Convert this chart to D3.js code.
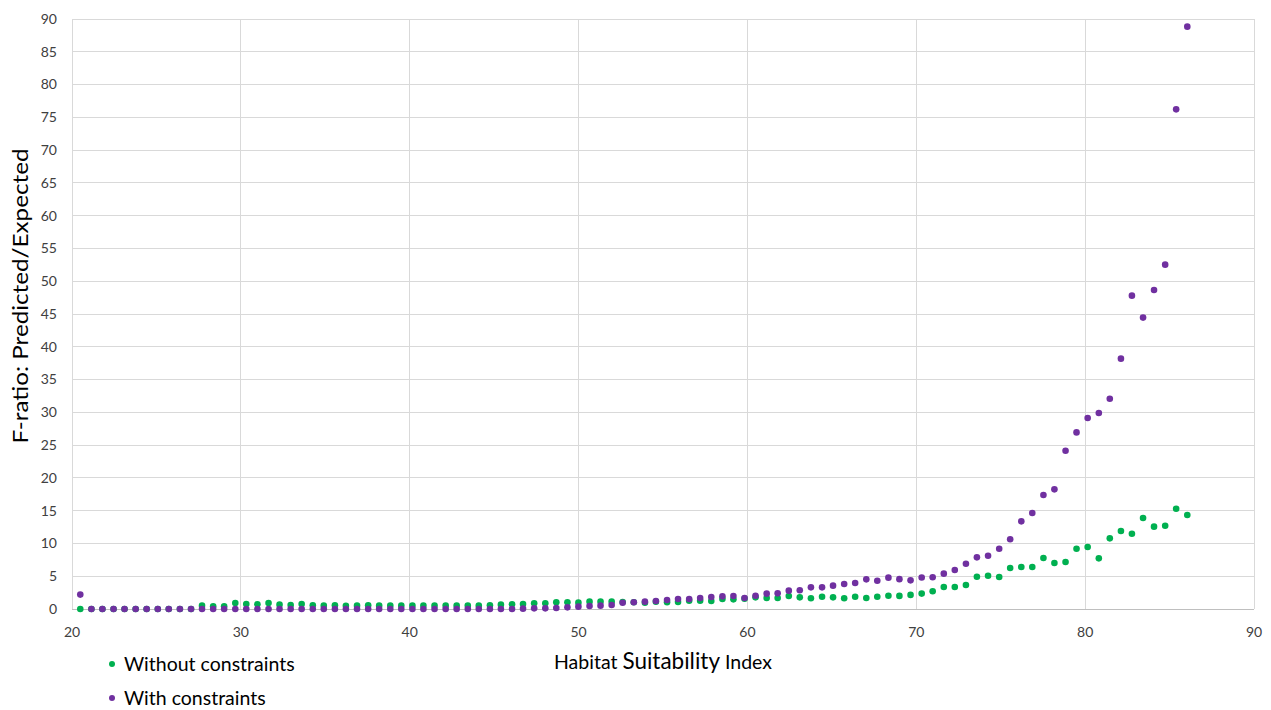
<!DOCTYPE html>
<html><head><meta charset="utf-8">
<script src="https://cdn.jsdelivr.net/npm/d3@7"></script>
<style>
html,body{margin:0;padding:0;background:#fff;}
svg{display:block;font-family:Lato,"Open Sans",sans-serif;}
</style></head>
<body><svg id="c" width="1271" height="710"></svg>
<script>
const hsi = [20.49,21.15,21.80,22.46,23.11,23.77,24.42,25.08,25.73,26.39,
27.05,27.70,28.36,29.01,29.67,30.32,30.98,31.64,32.29,32.95,
33.60,34.26,34.91,35.57,36.22,36.88,37.54,38.19,38.85,39.50,
40.16,40.81,41.47,42.13,42.78,43.44,44.09,44.75,45.40,46.06,
46.71,47.37,48.03,48.68,49.34,49.99,50.65,51.30,51.96,52.61,
53.27,53.93,54.58,55.24,55.89,56.55,57.20,57.86,58.52,59.17,
59.83,60.48,61.14,61.79,62.45,63.10,63.76,64.42,65.07,65.73,
66.38,67.04,67.69,68.35,69.00,69.66,70.32,70.97,71.63,72.28,
72.94,73.59,74.25,74.91,75.56,76.22,76.87,77.53,78.18,78.84,
79.49,80.15,80.81,81.46,82.12,82.77,83.43,84.08,84.74,85.39,86.05];

const withoutConstraints = [0,0,0,0,0,0,0,0,0,0,
0,0.51,0.41,0.41,0.92,0.76,0.71,0.92,0.66,0.61,
0.76,0.56,0.51,0.56,0.5,0.51,0.56,0.51,0.51,0.51,
0.51,0.51,0.51,0.51,0.51,0.51,0.51,0.56,0.66,0.71,
0.76,0.86,0.86,1.02,1.02,0.97,1.12,1.12,1.12,1.07,
1.02,0.97,1.12,1.02,1.07,1.27,1.27,1.22,1.53,1.47,
1.58,1.78,1.68,1.68,1.98,1.78,1.63,1.88,1.78,1.63,
1.88,1.68,1.88,2.03,2.0,2.15,2.35,2.7,3.36,3.36,
3.66,4.93,5.08,4.88,6.25,6.41,6.41,7.78,7.02,7.17,
9.20,9.46,7.73,10.78,11.90,11.49,13.88,12.56,12.71,15.30,14.34];

const withConstraints = [2.2,0,0,0,0,0,0,0,0,0,
0,0,0,0,0,0,0,0,0,0,
0,0,0,0,0,0,0,0,0,0,
0,0,0,0,0,0,0,0,0,0,
0.05,0.1,0.1,0.15,0.25,0.36,0.46,0.51,0.61,0.95,
1.02,1.12,1.22,1.37,1.53,1.53,1.68,1.83,1.93,1.98,
1.68,2.03,2.34,2.39,2.80,2.85,3.30,3.30,3.56,3.81,
3.97,4.52,4.32,4.78,4.55,4.37,4.8,4.85,5.39,5.95,
6.91,7.88,8.13,9.20,10.63,13.37,14.64,17.39,18.25,24.15,
26.94,29.13,29.89,32.08,38.19,47.80,44.45,48.67,52.53,76.22,88.83];

const xTicks = [20,30,40,50,60,70,80,90];
const yTicks = [0,5,10,15,20,25,30,35,40,45,50,55,60,65,70,75,80,85,90];
const seriesNames = ["Without constraints","With constraints"];
const seriesColors = ["#00b050","#7030a0"];

const svg = d3.select("#c");
const x = d3.scaleLinear().domain([20,90]).range([72,1254]);
const y = d3.scaleLinear().domain([0,90]).range([609,19]);

const grid = svg.append("g");
grid.selectAll("line.h").data(yTicks).join("line")
  .attr("x1",x(20)).attr("x2",x(90)).attr("y1",d=>y(d)).attr("y2",d=>y(d))
  .attr("stroke",d=>d===0?"#bfbfbf":"#d9d9d9").attr("stroke-width",1).attr("shape-rendering","crispEdges");
grid.selectAll("line.v").data(xTicks).join("line")
  .attr("y1",y(0)).attr("y2",y(90)).attr("x1",d=>x(d)).attr("x2",d=>x(d))
  .attr("stroke","#d9d9d9").attr("stroke-width",1).attr("shape-rendering","crispEdges");

svg.append("g").selectAll("text").data(yTicks).join("text")
  .attr("x",57).attr("y",d=>y(d)).attr("dy","0.35em").attr("text-anchor","end")
  .attr("font-size",14).attr("fill","#404040").text(d=>d);
svg.append("g").selectAll("text").data(xTicks).join("text")
  .attr("x",d=>x(d)).attr("y",637).attr("text-anchor","middle")
  .attr("font-size",14).attr("fill","#404040").text(d=>d);

const series = [withoutConstraints, withConstraints];
series.forEach((vals,k)=>{
  svg.append("g").selectAll("circle").data(hsi).join("circle")
    .attr("cx",d=>x(d)).attr("cy",(d,i)=>y(vals[i])).attr("r",3.3)
    .attr("fill",seriesColors[k]);
});

svg.append("text").attr("transform","translate(28,296) rotate(-90)")
  .attr("text-anchor","middle").attr("font-size",21).attr("fill","#000")
  .attr("textLength",295).attr("lengthAdjust","spacingAndGlyphs")
  .text("F-ratio: Predicted/Expected");

const xt = svg.append("text").attr("x",663).attr("y",669).attr("text-anchor","middle").attr("fill","#000");
xt.append("tspan").attr("font-size",19.5).text("Habitat ");
xt.append("tspan").attr("font-size",22.5).text("Suitability");
xt.append("tspan").attr("font-size",19.5).text(" Index");

const leg = svg.append("g").selectAll("g").data(seriesNames).join("g")
  .attr("transform",(d,i)=>`translate(112,${664+i*34})`);
leg.append("circle").attr("r",3).attr("fill",(d,i)=>seriesColors[i]);
leg.append("text").attr("x",12).attr("dy","0.35em").attr("font-size",19.5).attr("fill","#000").text(d=>d);
</script></body></html>
